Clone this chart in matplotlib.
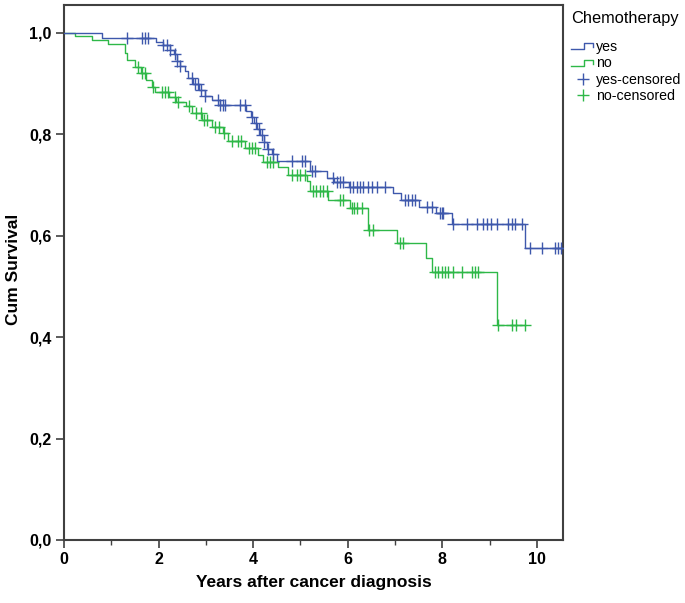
import numpy as np
import matplotlib
matplotlib.use('agg')
import matplotlib.pyplot as plt
from matplotlib.lines import Line2D
from matplotlib.legend_handler import HandlerBase
from matplotlib.ticker import FuncFormatter, MultipleLocator

plt.rcParams['font.family'] = ['Liberation Sans', 'DejaVu Sans']

# DATA ------------------------------------------------------------------------
# Kaplan-Meier steps: event time (years) -> survival after
yes_times = [0.80, 1.95, 2.10, 2.24, 2.33, 2.38, 2.45, 2.55, 2.62, 2.72, 2.85, 2.98,
             3.12, 3.30, 3.85, 3.95, 4.02, 4.08, 4.14, 4.22, 4.30, 4.40, 4.50, 5.20,
             5.56, 5.70, 6.02, 6.95, 7.12, 7.50, 7.86, 8.20, 9.75]
yes_surv = [0.990, 0.983, 0.976, 0.966, 0.958, 0.945, 0.935, 0.925, 0.912, 0.900, 0.888, 0.876,
            0.868, 0.858, 0.845, 0.835, 0.822, 0.810, 0.798, 0.785, 0.772, 0.762, 0.748, 0.727,
            0.714, 0.706, 0.697, 0.684, 0.670, 0.657, 0.645, 0.623, 0.576]
yes_end = 10.50
yes_censored = [1.33, 1.65, 1.72, 1.78, 2.10, 2.17, 2.24, 2.35, 2.38, 2.45, 2.70, 2.77,
                2.83, 2.90, 2.98, 3.26, 3.30, 3.37, 3.40, 3.72, 3.83, 3.98, 4.06, 4.12,
                4.19, 4.23, 4.31, 4.42, 4.82, 5.03, 5.10, 5.24, 5.30, 5.69, 5.77, 5.83,
                5.90, 6.05, 6.11, 6.19, 6.26, 6.32, 6.43, 6.51, 6.62, 6.79, 7.21, 7.27,
                7.36, 7.42, 7.67, 7.78, 7.95, 7.99, 8.01, 8.22, 8.52, 8.73, 8.86, 8.94,
                9.03, 9.15, 9.38, 9.47, 9.53, 9.68, 9.85, 10.10, 10.38, 10.44, 10.50]

no_times = [0.23, 0.60, 0.93, 1.28, 1.33, 1.50, 1.63, 1.74, 1.85, 1.92, 2.22, 2.36,
            2.58, 2.70, 2.92, 3.13, 3.36, 3.47, 3.83, 4.10, 4.20, 4.52, 4.74, 5.14,
            5.20, 5.58, 6.05, 6.43, 7.04, 7.65, 7.78, 9.15]
no_surv = [0.993, 0.986, 0.978, 0.960, 0.947, 0.933, 0.920, 0.907, 0.893, 0.883, 0.874, 0.864,
           0.855, 0.842, 0.828, 0.815, 0.803, 0.787, 0.773, 0.759, 0.746, 0.736, 0.720, 0.708,
           0.688, 0.670, 0.655, 0.611, 0.586, 0.556, 0.529, 0.424]
no_end = 9.75
no_censored = [1.56, 1.65, 1.71, 1.88, 2.07, 2.14, 2.20, 2.35, 2.41, 2.64, 2.80, 2.90,
               2.96, 3.02, 3.20, 3.27, 3.38, 3.56, 3.68, 3.75, 3.92, 3.98, 4.04, 4.29,
               4.36, 4.42, 4.82, 4.93, 4.99, 5.10, 5.27, 5.33, 5.41, 5.48, 5.55, 5.83,
               5.90, 6.08, 6.13, 6.20, 6.30, 6.45, 6.53, 7.10, 7.17, 7.84, 7.91, 7.99,
               8.05, 8.12, 8.22, 8.41, 8.63, 8.69, 8.75, 9.18, 9.47, 9.56, 9.75]

x_ticks = [0, 2, 4, 6, 8, 10]
y_ticks = [0.0, 0.2, 0.4, 0.6, 0.8, 1.0]
# END DATA --------------------------------------------------------------------

col_yes = '#3E58AC'
col_no = '#2EB848'
frame_col = '#404040'


def km_arrays(times, surv, end):
    t = np.concatenate([[0.0], times, [end]])
    s = np.concatenate([[1.0], surv, [surv[-1]]])
    return t, s


def surv_at(times, surv, c):
    t = np.asarray(times)
    s = np.concatenate([[1.0], surv])
    idx = np.searchsorted(t, np.asarray(c), side='right')
    return s[idx]


class StepHandler(HandlerBase):
    def create_artists(self, legend, orig_handle, xdescent, ydescent,
                       width, height, fontsize, trans):
        w, h = width, height
        xs = np.array([0, 0.55, 0.55, 0.92, 0.92]) * w - xdescent
        ys = np.array([0.15, 0.15, 0.75, 0.75, 0.35]) * h - ydescent
        ln = Line2D(xs, ys, color=orig_handle.get_color(), lw=1.0, transform=trans)
        return [ln]


fig = plt.figure(figsize=(6.85, 6.03), dpi=100)
ax = fig.add_axes([64 / 685, 63 / 603, (563 - 64) / 685, (540 - 5) / 603])

t, s = km_arrays(yes_times, yes_surv, yes_end)
l_yes, = ax.step(t, s, where='post', color=col_yes, lw=1.0, zorder=3)
t, s = km_arrays(no_times, no_surv, no_end)
l_no, = ax.step(t, s, where='post', color=col_no, lw=1.0, zorder=2)

c_yes, = ax.plot(yes_censored, surv_at(yes_times, yes_surv, yes_censored), ls='none',
                 marker='+', ms=8, mew=1.0, color=col_yes, zorder=3)
c_no, = ax.plot(no_censored, surv_at(no_times, no_surv, no_censored), ls='none',
                marker='+', ms=8, mew=1.0, color=col_no, zorder=2)

ax.set_xlim(0, 10.55)
ax.set_ylim(0, 1.055)
ax.set_xticks(x_ticks)
ax.xaxis.set_minor_locator(MultipleLocator(1))
ax.set_yticks(y_ticks)
ax.yaxis.set_major_formatter(FuncFormatter(lambda v, p: ('%.1f' % v).replace('.', ',')))
ax.tick_params(axis='both', which='major', direction='out', length=6, width=1.2,
               color=frame_col, pad=3, labelsize=11.5)
ax.tick_params(axis='x', which='minor', direction='out', length=3.5, width=1.0, color=frame_col)
for lab in ax.get_xticklabels() + ax.get_yticklabels():
    lab.set_fontweight('bold')
for sp in ax.spines.values():
    sp.set_color(frame_col)
    sp.set_linewidth(1.5)

ax.set_xlabel('Years after cancer diagnosis', fontsize=12.5, fontweight='bold')
ax.set_ylabel('Cum Survival', fontsize=12.5, fontweight='bold')
ax.xaxis.set_label_coords(0.5, -0.066)
ax.yaxis.set_label_coords(-0.086, 0.505)

leg = fig.legend([l_yes, l_no, c_yes, c_no], ['yes', 'no', 'yes-censored', 'no-censored'],
                 handler_map={l_yes: StepHandler(), l_no: StepHandler()},
                 loc='upper left', bbox_to_anchor=(568 / 685, 1 - 8 / 603),
                 frameon=False, fontsize=10.2, title='Chemotherapy', title_fontsize=11.8,
                 handlelength=1.7, handletextpad=0.1, labelspacing=0.18,
                 borderaxespad=0, borderpad=0.2, alignment='left')
leg._legend_box.sep = 10

fig.savefig('out.png', dpi=100, facecolor='white')
plt.close(fig)
